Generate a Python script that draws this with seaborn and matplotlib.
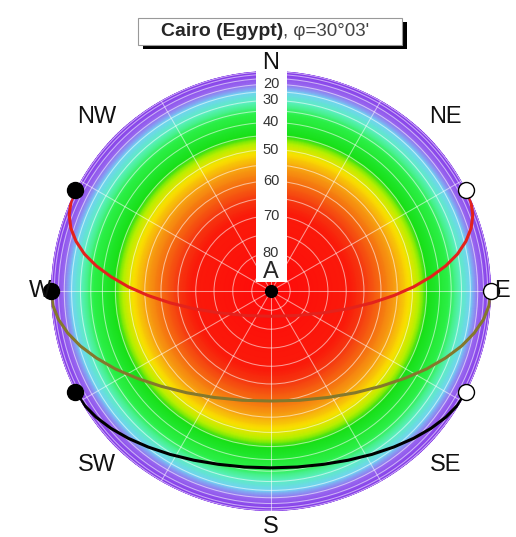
import numpy as np
import pandas as pd
import matplotlib
matplotlib.use("Agg")
import matplotlib.pyplot as plt
from matplotlib.colors import LinearSegmentedColormap
from matplotlib.patches import Rectangle
import seaborn as sns

sns.set_theme(style="white")
plt.rcParams["font.family"] = ["Liberation Sans", "DejaVu Sans"]

# --- sun paths (azimuth from N, altitude in degrees) ---
AZ_SUMMER = [62.7, 66.0, 69.4, 72.6, 75.7, 78.8, 81.8, 84.9, 88.3, 92.1,
             96.7, 102.9, 112.7, 132.9, 180.0, 227.1, 247.3, 257.1, 263.3,
             267.9, 271.7, 275.1, 278.2, 281.2, 284.3, 287.4, 290.6, 294.0,
             297.3]
ALT_SUMMER = [0.0, 5.5, 11.5, 17.6, 23.9, 30.2, 36.6, 43.1, 49.5, 56.0,
              62.5, 68.9, 75.1, 80.6, 83.4, 80.6, 75.1, 68.9, 62.5,
              56.0, 49.5, 43.1, 36.6, 30.2, 23.9, 17.6, 11.5, 5.5, 0.0]

AZ_EQUINOX = [90.0, 93.8, 97.6, 101.7, 106.1, 111.0, 116.6, 123.1, 130.9,
              140.4, 151.8, 165.3, 180.0, 194.7, 208.2, 219.6, 229.1, 236.9,
              243.4, 249.0, 253.9, 258.3, 262.4, 266.2, 270.0]
ALT_EQUINOX = [0.0, 6.5, 12.9, 19.4, 25.6, 31.8, 37.7, 43.4, 48.6,
               53.1, 56.7, 59.1, 60.0, 59.1, 56.7, 53.1, 48.6, 43.4,
               37.7, 31.8, 25.6, 19.4, 12.9, 6.5, 0.0]

AZ_WINTER = [117.3, 121.5, 125.8, 130.6, 135.9, 141.8, 148.3, 155.5, 163.2,
             171.5, 180.0, 188.5, 196.8, 204.5, 211.7, 218.2, 224.1, 229.4,
             234.2, 238.5, 242.7]
ALT_WINTER = [0.0, 6.0, 11.4, 16.5, 21.2, 25.5, 29.2, 32.3, 34.6,
              36.0, 36.5, 36.0, 34.6, 32.3, 29.2, 25.5, 21.2, 16.5,
              11.4, 6.0, 0.0]

PATH_COLORS = ["#e3221c", "#84782c", "#000000"]

# altitude rings / labels
ALT_LABELS = [20, 30, 40, 50, 60, 70, 80]
ALT_RINGS = list(range(5, 90, 5))
DIRECTIONS = ["N", "NE", "E", "SE", "S", "SW", "W", "NW"]
DIR_AZ = [0, 45, 90, 135, 180, 225, 270, 315]

# background colour ramp (centre -> horizon)
STOPS = [0.0, 0.36, 0.43, 0.51, 0.58, 0.63, 0.675, 0.715, 0.81, 0.865,
         0.91, 0.945, 1.0]
RAMP = ["#ff0a0a", "#fa1a0a", "#f53c10", "#f57410", "#f7aa10", "#f8e200",
        "#b8f000", "#18e018", "#2cf048", "#5cf0c0", "#72d4f2", "#9a6cf0",
        "#8438e8"]


def to_polar(az, alt):
    # orthographic projection: radius = cos(altitude)
    return np.radians(az), np.cos(np.radians(alt))


fig = plt.figure(figsize=(5.16, 5.37), dpi=100)
ax = fig.add_axes([0.0988, 0.0484, 0.8527, 0.8194], projection="polar")
ax.set_theta_zero_location("N")
ax.set_theta_direction(-1)
ax.set_ylim(0, 1)

cmap = LinearSegmentedColormap.from_list("sky", list(zip(STOPS, RAMP)))
th = np.linspace(0, 2 * np.pi, 361)
rr = np.linspace(0, 1, 221)
T, R = np.meshgrid(th, rr)
ax.pcolormesh(T, R, R, cmap=cmap, shading="gouraud", vmin=0, vmax=1,
              zorder=0)

ax.set_axisbelow(False)
ax.set_yticks(np.cos(np.radians(ALT_RINGS)))
ax.set_yticklabels([])
ax.set_xticks(np.radians(np.arange(0, 360, 30)))
ax.set_xticklabels([])
ax.grid(True, color="white", linewidth=0.75, alpha=0.55)
ax.spines["polar"].set_visible(False)

# sun paths
for az, alt, col in zip([AZ_SUMMER, AZ_EQUINOX, AZ_WINTER],
                        [ALT_SUMMER, ALT_EQUINOX, ALT_WINTER], PATH_COLORS):
    t, r = to_polar(az, alt)
    df = pd.DataFrame({"theta": t, "r": r})
    sns.lineplot(data=df, x="theta", y="r", ax=ax, sort=False, color=col,
                 linewidth=2.2, zorder=4)
    ax.plot(t[0], r[0], "o", ms=11.5, mfc="white", mec="black", mew=1.0,
            zorder=6, clip_on=False)
    ax.plot(t[-1], r[-1], "o", ms=11.5, mfc="black", mec="black",
            zorder=6, clip_on=False)
ax.set_xlabel("")
ax.set_ylabel("")

# white strip for the altitude scale
ax.add_patch(Rectangle((0.466, 0.52), 0.07, 0.48, transform=ax.transAxes,
                       facecolor="white", edgecolor="none", zorder=5,
                       clip_on=False))
for a in ALT_LABELS:
    ax.text(0, np.cos(np.radians(a)), str(a), ha="center", va="center",
            fontsize=10.5, color="#333333", zorder=7)
ax.text(0, 0.085, "A", ha="center", va="center", fontsize=17, zorder=7)
ax.plot(0, 0, "o", ms=8.5, color="black", zorder=7)

# compass labels
for d, a in zip(DIRECTIONS, DIR_AZ):
    rad = {"N": 1.035, "E": 1.05, "W": 1.05, "S": 1.075}.get(d, 1.12)
    ax.text(np.radians(a), rad, d, ha="center", va="center", fontsize=17,
            color="#111111", zorder=8, clip_on=False)

# title box with drop shadow
fig.patches.append(Rectangle((0.2771, 0.9088), 0.5117, 0.0503,
                             transform=fig.transFigure, facecolor="black",
                             edgecolor="none", zorder=-2))
fig.patches.append(Rectangle((0.2674, 0.9162), 0.5117, 0.0503,
                             transform=fig.transFigure, facecolor="white",
                             edgecolor="#999999", linewidth=0.8, zorder=-1))
t1 = fig.text(0.312, 0.9415, "Cairo (Egypt)", fontsize=14, fontweight="bold",
              ha="left", va="center", zorder=3)
ax.annotate(", φ=30°03'", xy=(1, 0), xycoords=t1, ha="left", va="bottom",
            fontsize=13.5, color="#444444", annotation_clip=False)

fig.savefig("out.png", dpi=100)
